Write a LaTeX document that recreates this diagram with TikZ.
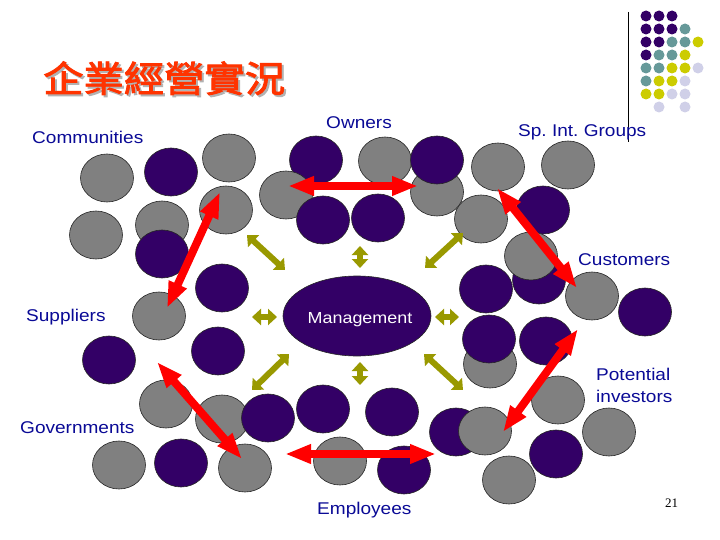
\documentclass[tikz,border=0pt]{standalone}
\usepackage{fontspec}
\setmainfont{Liberation Sans}
\newfontfamily\labelfont[FakeStretch=1.12]{Liberation Sans}
\newfontfamily\pagefont{Liberation Serif}
\newfontfamily\cjkfont[AutoFakeBold=2.5,FakeStretch=1.12]{Noto Sans CJK TC}
\usepackage{tikz}
\usetikzlibrary{arrows.meta}
\definecolor{plum}{RGB}{51,0,102}
\definecolor{slate}{RGB}{128,128,128}
\definecolor{sea}{RGB}{102,153,153}
\definecolor{mustard}{RGB}{204,204,0}
\definecolor{lilac}{RGB}{208,208,232}
\definecolor{olivegreen}{RGB}{153,153,0}
\definecolor{navyblue}{RGB}{10,10,150}
\definecolor{titlered}{RGB}{255,51,0}

\tikzset{
  ball/.style={draw=black!85, line width=0.6pt},
  redarrow/.style={draw=red, line width=8pt,
    {Triangle[length=26pt,width=18pt]}-{Triangle[length=26pt,width=18pt]}},
  olivearrow/.style={draw=olivegreen, line width=6pt,
    {Triangle[length=9pt,width=16pt]}-{Triangle[length=9pt,width=16pt]}},
  group/.style={font=\labelfont\fontsize{17}{21}\selectfont, text=navyblue,
    inner sep=0pt, anchor=base west},
  heading/.style={font=\cjkfont\bfseries\fontsize{36}{40}\selectfont,
    inner sep=0pt, anchor=base west}
}

\begin{document}
\begin{tikzpicture}[x=1pt, y=-1pt]
  \useasboundingbox (0,0) rectangle (720,540);
  \fill[white] (0,0) rectangle (720,540);

  \node[heading, text=black!30] (shadow) at (45,94) {企業經營實況};
  \node[heading, text=titlered] (title) at (43,92) {企業經營實況};

  \draw[line width=0.8pt] (628,12) -- (628,142);
  \foreach \c/\r/\col in {1/1/plum, 2/1/plum, 3/1/plum,
      1/2/plum, 2/2/plum, 3/2/plum, 4/2/sea,
      1/3/plum, 2/3/plum, 3/3/sea, 4/3/sea, 5/3/mustard,
      1/4/plum, 2/4/sea, 3/4/sea, 4/4/mustard,
      1/5/sea, 2/5/sea, 3/5/mustard, 4/5/mustard, 5/5/lilac,
      1/6/sea, 2/6/mustard, 3/6/mustard, 4/6/lilac,
      1/7/mustard, 2/7/mustard, 3/7/lilac, 4/7/lilac,
      2/8/lilac, 4/8/lilac}
    \fill[\col] ({633+13*\c},{3+13*\r}) circle (5.5);

  \foreach \x/\y in {107/178, 229/158, 226/210, 162/225, 96/235, 159/316,
      166/404, 222/419, 119/465, 245/468, 385/161, 437/192, 340/461,
      498/167, 568/165, 481/219, 592/296, 490/364, 558/400, 609/432}
    \filldraw[ball, fill=slate] (\x,\y) ellipse (26.5 and 24);
  \foreach \x/\y in {171/172, 162/254, 222/288, 109/360, 218/351, 181/463,
      268/418, 316/160, 437/160, 378/218, 323/409, 392/412, 404/470,
      456/432, 543/210, 486/289, 539/280, 645/312, 489/339, 546/341, 556/454}
    \filldraw[ball, fill=plum] (\x,\y) ellipse (26.5 and 24);
  \foreach \x/\y in {286/195, 485/431, 531/256, 509/480}
    \filldraw[ball, fill=slate] (\x,\y) ellipse (26.5 and 24);
  \filldraw[ball, fill=plum] (323,220) ellipse (26.5 and 24);

  \filldraw[ball, fill=plum] (357,316) ellipse (74 and 40);
  \node[font=\labelfont\fontsize{16}{20}\selectfont, text=white, inner sep=0pt, anchor=base]
    (management) at (360,323) {Management};

  \coordinate (ownersL) at (288,186);   \coordinate (ownersR) at (418,186);
  \coordinate (commTop) at (220,192);   \coordinate (suppBot) at (167,308);
  \coordinate (groupsTop) at (497,188); \coordinate (custBot) at (577,288);
  \coordinate (investTop) at (578,329); \coordinate (investBot) at (503,432);
  \coordinate (govTop) at (157,362);    \coordinate (govBot) at (242,459);
  \coordinate (emplL) at (285,454);     \coordinate (emplR) at (436,454);
  \draw[redarrow] (ownersL) -- (ownersR);
  \draw[redarrow] (commTop) -- (suppBot);
  \draw[redarrow] (groupsTop) -- (custBot);
  \draw[redarrow] (investTop) -- (investBot);
  \draw[redarrow] (govTop) -- (govBot);
  \draw[redarrow] (emplL) -- (emplR);

  \coordinate (w1) at (252,317); \coordinate (w2) at (277,317);
  \coordinate (e1) at (435,317); \coordinate (e2) at (459,317);
  \coordinate (n1) at (360,246); \coordinate (n2) at (360,268);
  \coordinate (s1) at (360,362); \coordinate (s2) at (360,385);
  \coordinate (nw1) at (247,235); \coordinate (nw2) at (285,270);
  \coordinate (ne1) at (463,233); \coordinate (ne2) at (425,268);
  \coordinate (sw1) at (289,354); \coordinate (sw2) at (252,390);
  \coordinate (se1) at (424,354); \coordinate (se2) at (463,390);
  \foreach \a/\b in {w1/w2, e1/e2, n1/n2, s1/s2, nw1/nw2, ne1/ne2, sw1/sw2, se1/se2}
    \draw[olivearrow] (\a) -- (\b);

  \node[group] (communities) at (32,144) {Communities};
  \node[group] (owners) at (326,129) {Owners};
  \node[group] (groups) at (518,137) {Sp.\ Int.\ Groups};
  \node[group] (customers) at (578,265) {Customers};
  \node[group] (suppliers) at (26,321) {Suppliers};
  \node[group] (potential) at (596,380) {Potential};
  \node[group] (investors) at (596,402) {investors};
  \node[group] (governments) at (20,433) {Governments};
  \node[group] (employees) at (317,514) {Employees};
  \node[font=\pagefont\fontsize{13}{15}\selectfont, inner sep=0pt, anchor=base west]
    (pagenum) at (665,507) {21};
\end{tikzpicture}
\end{document}
